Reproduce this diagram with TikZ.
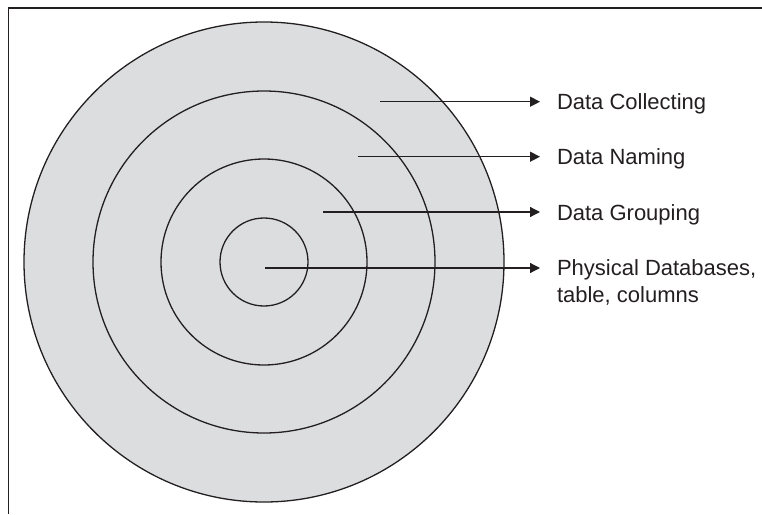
\documentclass[tikz,border=0pt]{standalone}
\usepackage{fontspec}
\setmainfont{Liberation Sans}
\usetikzlibrary{arrows.meta}
\definecolor{ringfill}{HTML}{DCDDDF}
\definecolor{inkline}{HTML}{231F20}
\tikzset{
  ring/.style={circle, draw=inkline, line width=1.3pt, fill=ringfill, inner sep=0pt},
  pointer/.style={draw=inkline, line width=1.3pt, -{Triangle[length=10pt,width=10pt]}, shorten >=18pt},
  lbl/.style={anchor=base west, inner sep=0pt, outer sep=0pt, align=left, text=inkline,
              font=\fontsize{22}{26.5}\selectfont},
  frame/.style={draw=inkline, line width=1.5pt}
}
\begin{document}
\begin{tikzpicture}[x=1pt,y=-1pt]
\useasboundingbox (0,0) rectangle (762,514);
% frame (top and left edges only)
\coordinate (fbl) at (8.5,514);
\coordinate (ftl) at (8.5,8);
\coordinate (ftr) at (762,8);
\draw[frame] (fbl) -- (ftl) -- (ftr);
% rings
\node[ring, minimum size=480pt] (c1) at (264,262) {};
\node[ring, minimum size=342pt] (c2) at (264,262) {};
\node[ring, minimum size=206pt] (c3) at (264,262) {};
\node[ring, minimum size=88pt]  (c4) at (264,262) {};
% labels
\node[lbl] (l1) at (557,109.6) {Data Collecting};
\node[lbl] (l2) at (557,164.6) {Data Naming};
\node[lbl] (l3) at (557,220) {Data Grouping};
\node[lbl] (l4) at (557,302.3) {Physical Databases,\\table, columns};
% arrow start points
\coordinate (s1) at (380,101.7);
\coordinate (s2) at (358,156.7);
\coordinate (s3) at (323,212);
\coordinate (s4) at (265,268);
\draw[pointer, shorten >=17pt] (s1) -- (l1.west |- s1);
\draw[pointer, shorten >=17pt] (s2) -- (l2.west |- s2);
\draw[pointer, shorten >=17pt] (s3) -- (l3.west |- s3);
\draw[pointer, shorten >=17pt] (s4) -- (l4.west |- s4);
\end{tikzpicture}
\end{document}
